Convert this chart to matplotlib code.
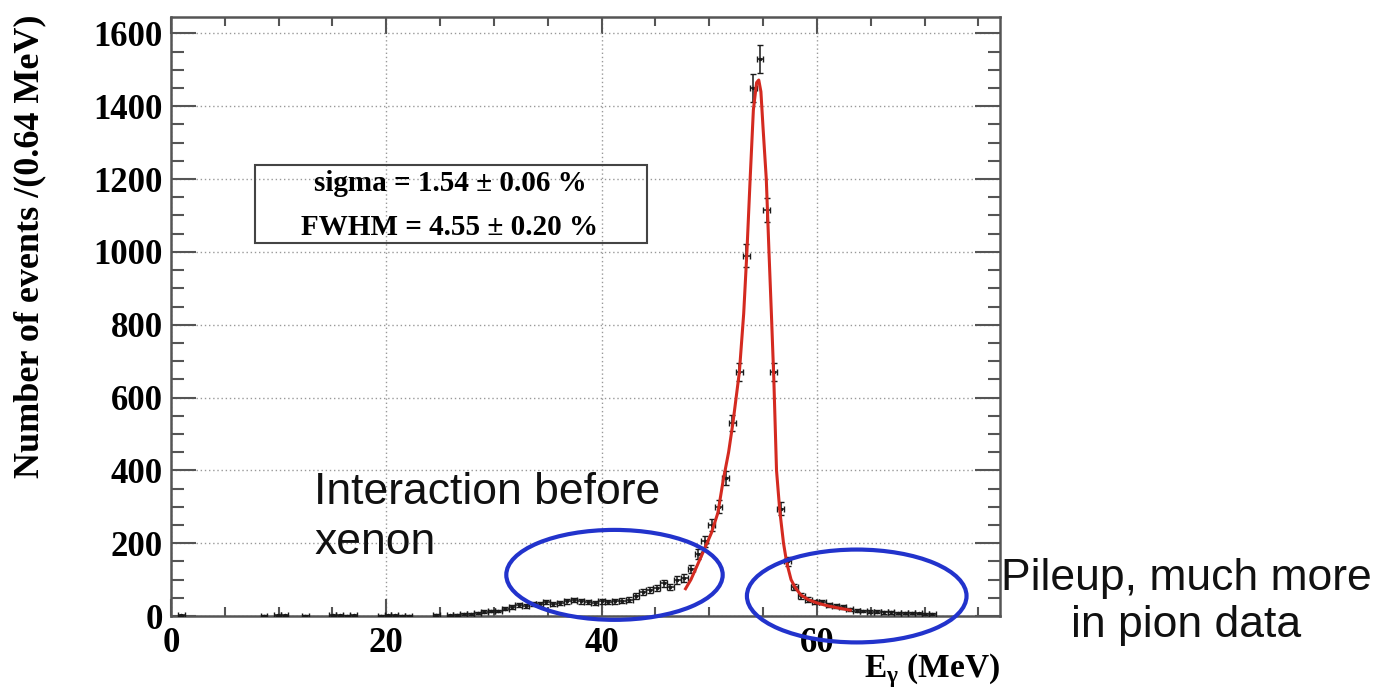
import numpy as np
import matplotlib.pyplot as plt
from matplotlib.patches import Ellipse, Rectangle
from matplotlib.ticker import MultipleLocator

plt.rcParams['font.family'] = ['Liberation Serif', 'DejaVu Serif']
plt.rcParams['font.weight'] = 'bold'

# E_gamma spectrum, 0.64 MeV bins (non-empty bins only)
energy = [0.96, 8.64, 9.92, 10.56, 12.48, 15.04, 15.68, 16.32, 16.96,
          19.52, 20.16, 20.80, 21.44, 22.08, 24.64, 25.92,
          26.56, 27.20, 27.84, 28.48, 29.12, 29.76, 30.40, 31.04, 31.68, 32.32,
          32.96, 33.60, 34.24, 34.88, 35.52, 36.16, 36.80, 37.44, 38.08, 38.72,
          39.36, 40.00, 40.64, 41.28, 41.92, 42.56, 43.20, 43.84, 44.48, 45.12,
          45.76, 46.40, 47.04, 47.68, 48.32, 48.96, 49.60, 50.24, 50.88, 51.52,
          52.16, 52.80, 53.44, 54.08, 54.72, 55.36, 56.00, 56.64, 57.28, 57.92,
          58.56, 59.20, 59.84, 60.48, 61.12, 61.76, 62.40, 63.04, 63.68, 64.32,
          64.96, 65.60, 66.24, 66.88, 67.52, 68.16, 68.80, 69.44, 70.08, 70.72]
counts = [2, 1, 2, 2, 1, 2, 2, 1, 2,
          1, 2, 2, 1, 1, 3, 2,
          3, 5, 6, 8, 12, 14, 14, 20, 25, 30,
          28, 32, 33, 38, 34, 35, 40, 44, 40, 38,
          36, 40, 38, 40, 42, 45, 55, 66, 72, 77,
          90, 80, 99, 105, 130, 170, 205, 250, 300, 380,
          530, 670, 990, 1450, 1530, 1115, 670, 295, 150, 80,
          55, 45, 38, 38, 30, 27, 25, 18, 15, 14,
          12, 12, 10, 10, 9, 8, 8, 7, 6, 5]

# fitted response curve
fit_e = [47.8, 48.3, 48.9, 49.5, 50.2, 50.8, 51.3, 51.8, 52.2, 52.8, 53.2, 53.5,
         53.8, 54.1, 54.4, 54.6, 54.8, 55.0, 55.3, 55.55, 55.8, 56.0, 56.25,
         56.55, 56.9, 57.2, 57.6, 57.95, 58.5, 59.2, 60.0, 61.0, 62.0, 63.1]
fit_n = [75, 100, 140, 180, 228, 283, 373, 450, 530, 670, 830, 1000,
         1200, 1390, 1465, 1472, 1440, 1340, 1200, 1000, 810, 650, 400,
         290, 200, 146, 100, 80, 58, 45, 36, 28, 22, 16]

fig = plt.figure(figsize=(13.83, 6.92), dpi=100)
ax = fig.add_axes([0.1236, 0.1098, 0.5994, 0.8656])

ax.errorbar(energy, counts, xerr=0.32, yerr=np.sqrt(counts), fmt='.', ms=3,
            color='#1a1a1a', ecolor='#1a1a1a', elinewidth=1.1, capsize=2.5, zorder=3)
ax.plot(fit_e, fit_n, color='#d42a20', lw=2.2, zorder=4)

ax.set_xlim(0, 77)
ax.set_ylim(0, 1645)
ax.xaxis.set_major_locator(MultipleLocator(20))
ax.xaxis.set_minor_locator(MultipleLocator(5))
ax.yaxis.set_major_locator(MultipleLocator(200))
ax.yaxis.set_minor_locator(MultipleLocator(50))
ax.grid(True, which='major', linestyle=(0, (1, 2)), color='#999999', lw=1)

ax.tick_params(which='both', direction='in', top=True, right=True,
               color='#555555', width=1.5, labelsize=25)
ax.tick_params(axis='x', which='major', length=12, pad=8)
ax.tick_params(axis='x', which='minor', length=6.5)
ax.tick_params(axis='y', which='major', length=18, pad=6)
ax.tick_params(axis='y', which='minor', length=9)
for s in ax.spines.values():
    s.set_color('#555555')
    s.set_linewidth(1.8)

fig.text(30 / 1383, 1 - 14 / 692, 'Number of events /(0.64 MeV)', rotation=90,
         ha='center', va='top', fontsize=26, fontweight='bold')
ax.set_xlabel('E$_{\\mathregular{γ}}$ (MeV)', loc='right', fontsize=24, fontweight='bold')
ax.xaxis.set_label_coords(1.0, -0.058)

# resolution box
ax.add_patch(Rectangle((0.1013, 0.6227), 0.4729, 0.1302, transform=ax.transAxes,
                       fill=False, edgecolor='#444444', lw=1.5, zorder=5))
ax.text(0.3366, 0.7229, 'sigma = 1.54 ± 0.06 %', transform=ax.transAxes,
        ha='center', va='center', fontsize=21, fontweight='bold')
ax.text(0.3366, 0.6494, 'FWHM = 4.55 ± 0.20 %', transform=ax.transAxes,
        ha='center', va='center', fontsize=21, fontweight='bold')

# annotations
ax.add_patch(Ellipse((41.2, 113), 20.1, 247, fill=False, edgecolor='#2233cc',
                     lw=3, clip_on=False, zorder=6))
ax.add_patch(Ellipse((63.7, 55), 20.4, 255, fill=False, edgecolor='#2233cc',
                     lw=3, clip_on=False, zorder=6))
ax.text(13.3, 396, 'Interaction before\nxenon', ha='left', va='top',
        fontsize=32, family='Liberation Sans', fontweight='normal',
        color='#111111', linespacing=1.3)
fig.text(0.8576, 0.130, 'Pileup, much more\nin pion data', ha='center', va='center',
         multialignment='center', fontsize=32, family='Liberation Sans',
         fontweight='normal', color='#111111', linespacing=1.2)

fig.savefig('out.png', dpi=100, facecolor='white')
